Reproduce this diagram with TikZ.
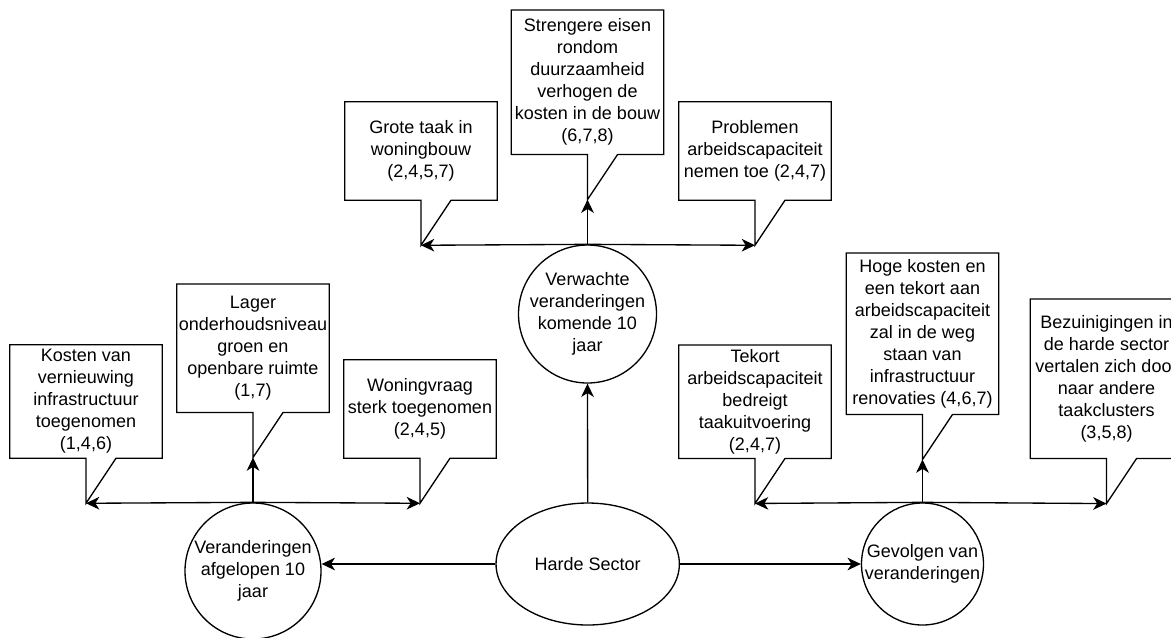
\documentclass[tikz,border=0pt]{standalone}
\usepackage{fontspec}
\setmainfont{Liberation Sans}
\usetikzlibrary{shapes.geometric,arrows.meta,calc}

% Speech-bubble box: name, centre x, centre y, height, text.
% The pointer hangs from the bottom edge; its tip is the coordinate <name>-tip.
\newcommand\calloutbox[5]{%
  \node[callout, minimum height=#4*0.75pt] (#1) at (#2,#3) {#5};
  \coordinate (#1-tip) at ($(#1.south)+(0,45)$);
  \draw[calloutline] ($(#1.south)+(30,0)$) -- (#1.south east) -- (#1.north east)
    -- (#1.north west) -- (#1.south west) -- (#1.south) -- (#1-tip) -- cycle;
}

\begin{document}
\begin{tikzpicture}[x=0.75pt,y=-0.75pt,
  every node/.style={font=\fontsize{13.5}{16.5}\selectfont},
  callout/.style={draw=none, inner sep=0pt, align=center, minimum width=114pt},
  calloutline/.style={draw=black, line width=1pt, line join=miter},
  bubble/.style={draw, circle, line width=1pt, inner sep=0pt},
  bubbletext/.style={align=center, inner sep=0pt},
  link/.style={line width=1pt, -{Stealth[length=10pt,width=9.5pt,inset=3pt]}}]

\useasboundingbox (0,0) rectangle (1171,637);
\clip (0,0) rectangle (1171,637);

% central ellipse and the three theme circles
\node[draw, ellipse, line width=1pt, inner sep=0pt,
      minimum width=137.5pt, minimum height=91.5pt] (harde) at (587.7,564) {Harde Sector};

\node[bubble, minimum size=103.5pt] (verwachte) at (587.5,314) {};
\node[bubbletext] (verwachte-text) at (verwachte) {Verwachte\\veranderingen\\komende 10\\jaar};

\node[bubble, minimum size=102pt] (verand) at (253,571) {};
\node[bubbletext] (verand-text) at (verand) {Veranderingen\\afgelopen 10\\jaar};

\node[bubble, minimum size=91.5pt] (gevolgen) at (922.5,564) {};
\node[bubbletext] (gevolgen-text) at (gevolgen) {Gevolgen van\\veranderingen};

% speech bubbles, top group
\calloutbox{grote}{421}{151}{98}{Grote taak in\\woningbouw\\(2,4,5,7)}
\calloutbox{streng}{587.5}{82.3}{144}{Strengere eisen\\rondom\\duurzaamheid\\verhogen de\\kosten in de bouw\\(6,7,8)}
\calloutbox{problemen}{755}{151}{98}{Problemen\\arbeidscapaciteit\\nemen toe (2,4,7)}

% speech bubbles, left group
\calloutbox{kosten}{86}{401.5}{113}{Kosten van\\vernieuwing\\infrastructuur\\toegenomen\\(1,4,6)}
\calloutbox{lager}{253}{348.2}{128}{Lager\\onderhoudsniveau\\groen en\\openbare ruimte\\(1,7)}
\calloutbox{woning}{420}{409}{98}{Woningvraag\\sterk toegenomen\\(2,4,5)}

% speech bubbles, right group
\calloutbox{tekort}{755}{401.7}{113}{Tekort\\arbeidscapaciteit\\bedreigt\\taakuitvoering\\(2,4,7)}
\calloutbox{hoge}{922.5}{333.7}{161}{Hoge kosten en\\een tekort aan\\arbeidscapaciteit\\zal in de weg\\staan van\\infrastructuur\\renovaties (4,6,7)}
\calloutbox{bezuin}{1106.5}{378.8}{159}{Bezuinigingen in\\de harde sector\\vertalen zich door\\naar andere\\taakclusters\\(3,5,8)}

% connectors from the central ellipse
\draw[link] (harde.north) -- (verwachte.south);
\draw[link] (harde.west) -- (harde.west -| verand.east);
\draw[link] (harde.east) -- (harde.east -| gevolgen.west);

% branches to the bubbles
\draw[link] (verwachte.north) -- (grote-tip);
\draw[link] (verwachte.north) -- (streng-tip);
\draw[link] (verwachte.north) -- (problemen-tip);

\draw[link] (verand.north) -- (kosten-tip);
\draw[link] (verand.north) -- (lager-tip);
\draw[link] (verand.north) -- (woning-tip);

\draw[link] (gevolgen.north) -- (tekort-tip);
\draw[link] (gevolgen.north) -- (hoge-tip);
\draw[link] (gevolgen.north) -- (bezuin-tip);
\end{tikzpicture}
\end{document}
